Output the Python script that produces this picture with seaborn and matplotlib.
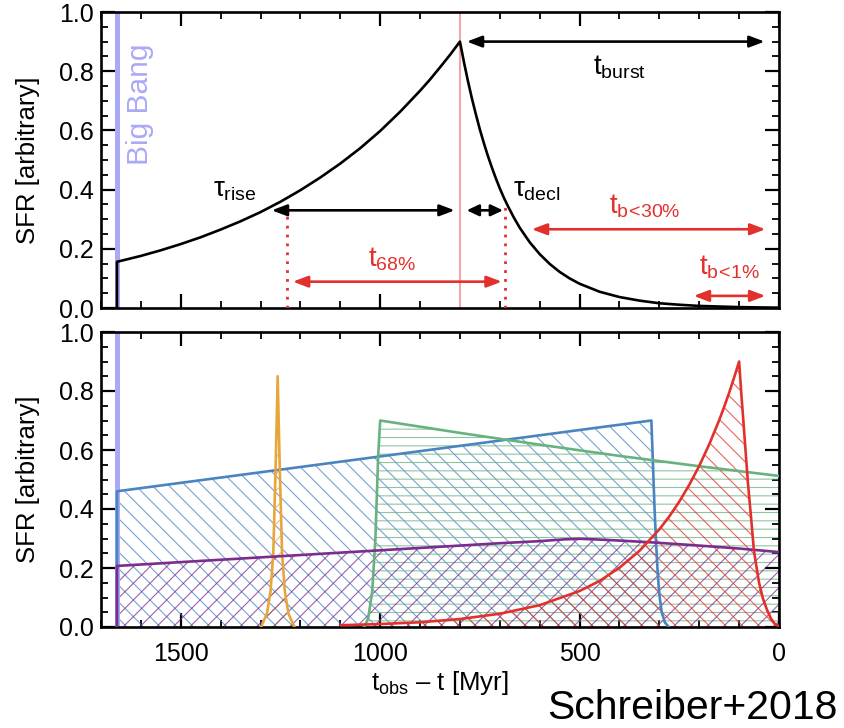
import numpy as np
import pandas as pd
import matplotlib
matplotlib.use("Agg")
import matplotlib.pyplot as plt
import seaborn as sns
from matplotlib.ticker import MultipleLocator, FormatStrFormatter

# ---------------- data ----------------
# top panel: model burst SFH
top_t = [1660, 1660, 1600, 1550, 1500, 1450, 1400, 1350, 1300, 1250, 1200, 1150, 1100,
         1050, 1000, 950, 900, 875, 850, 825, 800,
         790, 780, 770, 760, 750, 740, 730, 720, 710, 700, 690, 680, 665, 650, 625,
         600, 575, 550, 525, 500, 450, 400, 350, 300, 250, 200, 100, 0]
top_y = [0.0, 0.156, 0.176, 0.195, 0.216, 0.239, 0.265, 0.293, 0.324, 0.359, 0.398, 0.441,
         0.488, 0.540, 0.598, 0.663, 0.734, 0.772, 0.813, 0.855, 0.90,
         0.831, 0.767, 0.708, 0.654, 0.603, 0.557, 0.514, 0.475, 0.438, 0.404, 0.373,
         0.345, 0.306, 0.271, 0.222, 0.182, 0.149, 0.122, 0.100, 0.082, 0.055, 0.037,
         0.025, 0.016, 0.011, 0.007, 0.003, 0.001]
big_bang_t = 1660
peak_t = 800
t68_bounds = [1233, 686]

# bottom panel: example SFHs
blue_t = [1660, 1660, 320, 316, 312, 308, 304, 300, 294, 286, 276]
blue_y = [0.0, 0.46, 0.70, 0.55, 0.40, 0.28, 0.18, 0.11, 0.05, 0.015, 0.0]

green_t = [1040, 1030, 1020, 1012, 1005, 1000, 800, 600, 400, 200, 0]
green_y = [0.0, 0.03, 0.12, 0.30, 0.58, 0.70, 0.658, 0.618, 0.580, 0.545, 0.512]

orange_t = [1299, 1284, 1275, 1268, 1262, 1257, 1252, 1246, 1239, 1230, 1215]
orange_y = [0.0, 0.045, 0.12, 0.25, 0.55, 0.85, 0.55, 0.25, 0.12, 0.045, 0.0]

purple_t = [1660, 1660, 1400, 1100, 900, 700, 600, 540, 500, 460, 400, 320, 200, 100, 0]
purple_y = [0.0, 0.207, 0.228, 0.252, 0.268, 0.284, 0.291, 0.297, 0.299, 0.297, 0.293,
            0.287, 0.276, 0.266, 0.254]

red_t = [1100, 1000, 900, 800, 700, 600, 500, 450, 400, 350, 300, 275, 250, 225, 200, 175,
         150, 137, 125, 112, 100,
         95, 90, 84, 78, 70, 63, 56, 50, 40, 30, 20, 10, 0]
red_y = [0.006, 0.010, 0.016, 0.027, 0.045, 0.074, 0.122, 0.156, 0.201, 0.258, 0.331, 0.375,
         0.425, 0.482, 0.546, 0.619, 0.701, 0.748, 0.794, 0.848, 0.90,
         0.80, 0.71, 0.60, 0.49, 0.37, 0.26, 0.20, 0.15, 0.095, 0.058, 0.028, 0.010, 0.003]

# ---------------- style ----------------
sns.set_theme(style="ticks")
plt.rcParams["font.family"] = ["Liberation Sans", "DejaVu Sans"]
plt.rcParams.update({
    "mathtext.fontset": "custom",
    "mathtext.rm": "Liberation Sans",
    "mathtext.it": "Liberation Sans",
    "mathtext.sf": "Liberation Sans",
    "mathtext.bf": "Liberation Sans:bold",
    "hatch.linewidth": 0.8,
    "text.color": "black",
    "axes.labelcolor": "black",
    "xtick.color": "black",
    "ytick.color": "black",
    "xtick.labelcolor": "black",
    "ytick.labelcolor": "black",
})

C_BLUE = "#4A84C0"
C_GREEN = "#68B280"
C_ORANGE = "#E8A53A"
C_PURPLE = "#7B2C8C"
C_RED = "#E2312C"
C_BB = "#A9A9F7"
C_PINK = "#F4A5A5"

fig = plt.figure(figsize=(8.45, 7.28), dpi=100)
ax1 = fig.add_axes([101 / 845, 1 - 308 / 728, 678 / 845, 296 / 728])
ax2 = fig.add_axes([101 / 845, 1 - 627 / 728, 678 / 845, 295 / 728])


def style_axis(ax, xlabels=True):
    ax.set_xlim(1700, 0)
    ax.set_ylim(0, 1.0)
    ax.xaxis.set_major_locator(MultipleLocator(500))
    ax.xaxis.set_minor_locator(MultipleLocator(100))
    ax.yaxis.set_major_locator(MultipleLocator(0.2))
    ax.yaxis.set_minor_locator(MultipleLocator(0.05))
    ax.yaxis.set_major_formatter(FormatStrFormatter("%.1f"))
    ax.tick_params(which="major", direction="in", length=10, width=1.6,
                   top=True, right=True, labelsize=18, color="black", labelcolor="black")
    ax.tick_params(which="minor", direction="in", length=5, width=1.3,
                   top=True, right=True, color="black")
    ax.tick_params(axis="x", pad=11)
    ax.tick_params(axis="y", pad=5)
    if not xlabels:
        ax.tick_params(axis="x", labelbottom=False)
    for s in ax.spines.values():
        s.set_linewidth(1.9)
        s.set_color("black")
        s.set_visible(True)
    ax.set_ylabel("SFR [arbitrary]", fontsize=18.5, labelpad=14, color="black")


def draw_line(ax, t, y, color, lw=1.9, zorder=3):
    df = pd.DataFrame({"t": t, "y": y})
    sns.lineplot(data=df, x="t", y="y", ax=ax, color=color, lw=lw, sort=False,
                 estimator=None, zorder=zorder, legend=False)


def arrow(ax, x0, x1, y, color, hl=0.45):
    ax.annotate("", xy=(x1, y), xytext=(x0, y),
                arrowprops=dict(arrowstyle=f"<|-|>,head_length={hl},head_width=0.17",
                                color=color, lw=1.9, shrinkA=0, shrinkB=0,
                                mutation_scale=20), zorder=5)


# ---------------- top panel ----------------
ax1.axvline(big_bang_t, color=C_BB, lw=3.6, zorder=2)
ax1.axvline(peak_t, color=C_PINK, lw=1.5, zorder=2)
draw_line(ax1, top_t, top_y, "black", lw=1.9, zorder=4)
ax1.text(1602, 0.895, "Big Bang", rotation=90, color=C_BB, fontsize=21.5,
         ha="center", va="top")

for tb in t68_bounds:
    ax1.plot([tb, tb], [0, 0.356], color=C_RED, lw=2, linestyle=(0, (1, 2.2)), zorder=3)

arrow(ax1, 783, 36, 0.90, "black")
arrow(ax1, 1272, 813, 0.33, "black")
arrow(ax1, 783, 692, 0.33, "black", hl=0.36)
arrow(ax1, 1219, 695, 0.089, C_RED)
arrow(ax1, 620, 34, 0.266, C_RED)
arrow(ax1, 214, 34, 0.041, C_RED)

ax1.text(400, 0.815, r"$\mathrm{t}_{\mathrm{burst}}$", fontsize=20, ha="center", va="center")
ax1.text(1364, 0.40, r"$\tau_{\mathrm{rise}}$", fontsize=20, ha="center", va="center")
ax1.text(607, 0.40, r"$\tau_{\mathrm{decl}}$", fontsize=20, ha="center", va="center")
ax1.text(971, 0.165, r"$\mathrm{t}_{68\%}$", fontsize=20, ha="center", va="center", color=C_RED)
ax1.text(337, 0.344, r"$\mathrm{t}_{\mathrm{b\!<\!30\%}}$", fontsize=20, ha="center",
         va="center", color=C_RED)
ax1.text(124, 0.138, r"$\mathrm{t}_{\mathrm{b\!<\!1\%}}$", fontsize=20, ha="center",
         va="center", color=C_RED)

style_axis(ax1, xlabels=False)
ax1.set_xlabel("")

# ---------------- bottom panel ----------------
ax2.axvline(big_bang_t, color=C_BB, lw=3.6, zorder=2)

fills = [
    (blue_t, blue_y, C_BLUE, "\\\\"),
    (green_t, green_y, C_GREEN, "--"),
    (orange_t, orange_y, C_ORANGE, "//"),
    (purple_t, purple_y, C_PURPLE, "//"),
    (red_t, red_y, C_RED, "\\\\"),
]
for t, y, c, h in fills:
    ax2.fill_between(t, 0, y, facecolor="none", edgecolor=c, linewidth=0,
                     hatch=h, alpha=0.75, zorder=1)

for t, y, c, _ in fills:
    draw_line(ax2, t, y, c, lw=1.9, zorder=3)

style_axis(ax2, xlabels=True)
ax2.set_xlabel(r"$\mathrm{t}_{\mathrm{obs}}$ – t [Myr]", fontsize=18.5, labelpad=2,
               color="black")

fig.text(838 / 845, 1 - 719 / 728, "Schreiber+2018", fontsize=29.5, ha="right",
         va="baseline", color="black")

fig.savefig("out.png", dpi=100)
